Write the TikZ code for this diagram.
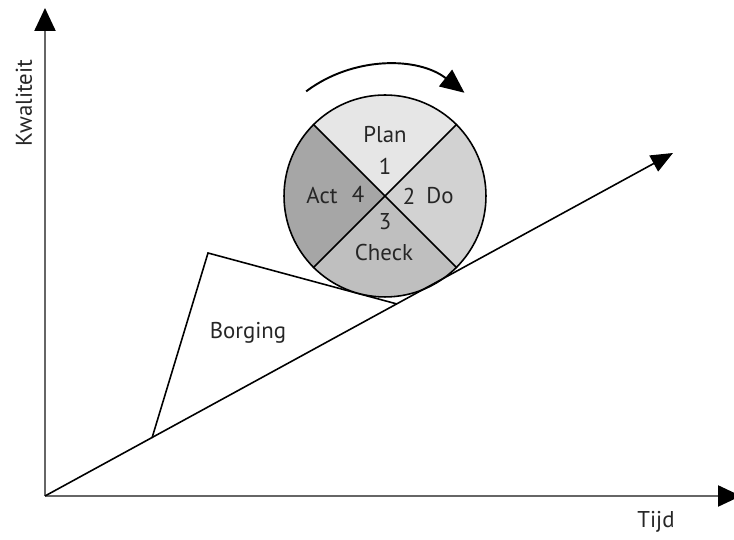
\documentclass[tikz,border=0pt]{standalone}
\usepackage{fontspec}
\setmainfont{PT Sans}
\usetikzlibrary{arrows.meta,calc}
\definecolor{pdPlan}{HTML}{E6E6E6}
\definecolor{pdDo}{HTML}{D2D2D2}
\definecolor{pdCheck}{HTML}{BFBFBF}
\definecolor{pdAct}{HTML}{A6A6A6}
\definecolor{pdText}{HTML}{262626}
\begin{document}
\begin{tikzpicture}[x=0.02cm,y=0.02cm,line width=0.9pt,
  lbl/.style={text=pdText,font=\fontsize{13}{15}\selectfont,inner sep=1pt},
  axis/.style={draw=black!60,line width=1.3pt,-{Triangle[length=0.46cm,width=0.42cm,color=black]}},
  trendline/.style={-{Triangle[length=0.44cm,width=0.36cm]}},
  turn/.style={line width=1.1pt,-{Triangle[length=0.48cm,width=0.42cm]}},
  pdca/.style={circle,draw,minimum size=4.04cm,inner sep=0pt}]
\useasboundingbox (0,0) rectangle (734,540);
% axes and trend
\coordinate (O) at (45,44);
\coordinate (ytip) at (45,532);
\coordinate (xtip) at (741,44);
\coordinate (trend) at (673,387);
\draw[axis] (O) -- (ytip);
\draw[axis] (O) -- (xtip);
% borging wedge
\coordinate (b1) at (152,102);
\coordinate (b2) at (208,287);
\coordinate (b3) at (397,236);
\draw[line join=miter] (b1) -- (b2) -- (b3);
\node[lbl] (borging) at (248,207) {Borging};
% pdca wheel
\coordinate (C) at (385,344);
\fill[pdPlan] (C) -- ++(45:101) arc[start angle=45,end angle=135,radius=101] -- cycle;
\fill[pdAct] (C) -- ++(135:101) arc[start angle=135,end angle=225,radius=101] -- cycle;
\fill[pdCheck] (C) -- ++(225:101) arc[start angle=225,end angle=315,radius=101] -- cycle;
\fill[pdDo] (C) -- ++(315:101) arc[start angle=315,end angle=405,radius=101] -- cycle;
\node[pdca] (wheel) at (C) {};
\draw (wheel.45) -- (wheel.225);
\draw (wheel.135) -- (wheel.315);
\draw[trendline] (O) -- (trend);
\node[lbl] (plan) at (385,405) {Plan};
\node[lbl] (n1) at (385,374) {1};
\node[lbl] (act) at (322,344) {Act};
\node[lbl] (n4) at (358,346) {4};
\node[lbl] (n2) at (409,344) {2};
\node[lbl] (do) at (440,344) {Do};
\node[lbl] (n3) at (385,318) {3};
\node[lbl] (check) at (384,287) {Check};
% rotation arrow
\coordinate (cyc) at ($(C)+(127:131)$);
\draw[turn] (cyc) arc[start angle=127,end angle=52,radius=130];
% axis labels
\node[lbl,rotate=90] (kwal) at (24,437) {Kwaliteit};
\node[lbl] (tijd) at (656,18) {Tijd};
\end{tikzpicture}
\end{document}
